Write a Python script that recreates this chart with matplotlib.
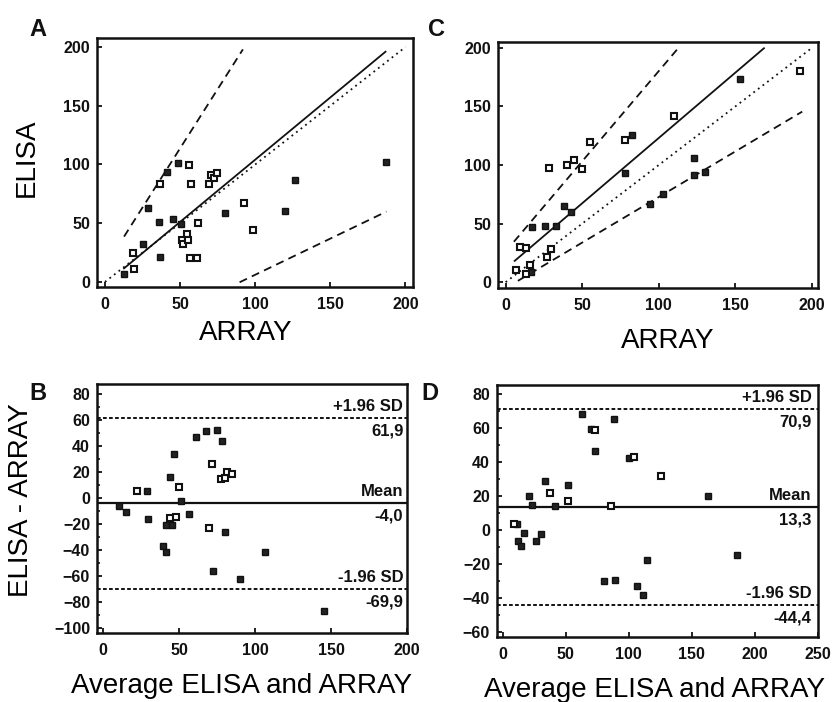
import matplotlib
matplotlib.use("Agg")
import matplotlib.pyplot as plt
import numpy as np

plt.rcParams['font.family'] = ['Liberation Sans', 'DejaVu Sans']

# ---------------- Data ----------------
# Panel A: ELISA vs ARRAY (set 1)
a_x = [12.7, 18.9, 19.6, 25.1, 28.4, 35.8, 36.9, 36.7, 41.6, 45.1, 48.4, 50.7, 51.6, 51.8,
       54.4, 55.3, 56.0, 57.3, 56.7, 61.3, 62.0, 69.1, 70.9, 72.4, 74.7, 80.0, 92.7, 98.2,
       119.8, 126.7, 187.3]
a_y = [7.1, 24.4, 10.8, 32.1, 63.3, 51.1, 21.6, 83.7, 93.3, 53.3, 101.3, 49.6, 36.0, 32.1,
       40.9, 36.0, 99.3, 83.7, 20.4, 20.4, 50.2, 83.7, 90.8, 88.5, 92.8, 58.4, 67.5, 44.3,
       60.1, 86.8, 102.4]
a_open = [0, 1, 1, 0, 0, 0, 0, 1, 0, 0, 0, 0, 1, 1,
          1, 1, 1, 1, 1, 1, 1, 1, 1, 1, 1, 0, 1, 1,
          0, 0, 0]
# lines: slope, intercept, x start, x end
a_reg = [1.06, -1.9, 12.7, 186.7]
a_up = [2.015, 13.0, 12.7, 91.8]
a_lo = [0.616, -55.5, 89.6, 187.3]
a_id = [1.0, 0.0, 0.0, 200.0]

# Panel C: ELISA vs ARRAY (set 2)
c_x = [6.5, 9.1, 13.5, 13.0, 15.6, 16.7, 17.4, 25.4, 27.1, 28.2, 29.8, 33.2, 37.8, 40.2,
       42.6, 44.5, 50.2, 55.2, 77.7, 78.2, 82.3, 94.5, 102.7, 109.9, 123.1, 123.3, 130.5,
       152.9, 192.4]
c_y = [10.3, 30.2, 28.8, 7.4, 14.5, 8.3, 46.7, 48.1, 21.7, 97.2, 28.5, 48.1, 65.0, 100.3,
       59.5, 104.0, 96.6, 119.9, 93.4, 121.4, 125.6, 66.7, 75.5, 142.2, 106.3, 91.5, 93.7,
       173.8, 180.1]
c_open = [1, 1, 1, 1, 1, 0, 0, 0, 1, 1, 1, 0, 0, 1,
          0, 1, 1, 1, 0, 1, 0, 0, 0, 1, 0, 0, 0,
          0, 1]
c_reg = [1.115, 11.6, 5.9, 168.7]
c_up = [1.54, 26.2, 5.4, 112.7]
c_lo = [0.778, -5.1, 8.0, 193.7]
c_id = [1.0, 0.0, 0.0, 200.0]

# Panel B: Bland-Altman (set 1)
b_x = [10.3, 15.3, 22.4, 28.9, 29.6, 39.4, 41.6, 41.6, 44.3, 45.4, 48.2, 44.3, 46.9, 49.8,
       51.3, 56.8, 60.9, 67.9, 69.5, 71.7, 72.1, 75.2, 78.3, 77.4, 80.5, 81.6, 84.8, 80.5,
       89.9, 106.8, 145.2]
b_y = [-6.1, -10.4, 5.5, 5.5, -16.1, -36.6, -41.2, -20.7, -15.5, -20.7, -14.3, 16.0, 33.7, 8.8,
       -2.0, -12.6, 47.3, 51.6, -22.7, 26.0, -55.9, 52.9, 44.0, 15.0, 15.2, 20.4, 18.3, -26.3,
       -62.0, -41.2, -87.4]
b_open = [0, 0, 1, 0, 0, 0, 0, 0, 1, 0, 1, 0, 0, 1,
          0, 0, 0, 0, 1, 1, 0, 0, 0, 1, 1, 1, 1, 0,
          0, 0, 0]
b_mean, b_upper, b_lower = -4.0, 61.9, -69.9
b_labels = ["+1.96 SD", "61,9", "Mean", "-4,0", "-1.96 SD", "-69,9"]

# Panel D: Bland-Altman (set 2)
d_x = [9.2, 11.1, 11.8, 14.5, 16.8, 21.0, 23.3, 26.2, 30.1, 33.7, 37.9, 41.8, 52.2, 51.7,
       63.2, 70.4, 73.6, 73.6, 80.3, 86.1, 87.9, 88.7, 100.1, 104.3, 106.9, 111.3, 114.5,
       125.7, 162.9, 185.5]
d_y = [3.3, 3.3, -6.5, -9.5, -1.8, 20.0, 14.5, -6.5, -2.2, 28.8, 21.8, 14.1, 26.3, 16.9,
       67.9, 59.1, 58.7, 46.3, -30.1, 14.1, 65.0, -29.3, 42.4, 43.0, -33.0, -38.5, -17.5,
       31.6, 20.0, -15.0]
d_open = [1, 0, 0, 0, 0, 0, 0, 0, 0, 0, 1, 0, 0, 1,
          0, 0, 1, 0, 0, 1, 0, 0, 0, 1, 0, 0, 0,
          1, 0, 0]
d_mean, d_upper, d_lower = 13.3, 70.9, -44.4
d_labels = ["+1.96 SD", "70,9", "Mean", "13,3", "-1.96 SD", "-44,4"]

INK = '#111111'
LABEL_FS = 20

fig = plt.figure(figsize=(8.34, 7.02), dpi=100)
axA = fig.add_axes([0.1163, 0.5912, 0.3789, 0.3547])
axC = fig.add_axes([0.5971, 0.5897, 0.3837, 0.3504])
axB = fig.add_axes([0.1163, 0.0983, 0.3717, 0.3547])
axD = fig.add_axes([0.5959, 0.0926, 0.3849, 0.3590])


def style(ax):
    for s in ax.spines.values():
        s.set_linewidth(1.8)
        s.set_color(INK)
    ax.tick_params(axis='x', direction='in', length=3.6, width=1.3, colors=INK,
                   labelsize=11.5, pad=7)
    ax.tick_params(axis='y', direction='in', length=3.6, width=1.3, colors=INK,
                   labelsize=11.5, pad=5)
    for lab in ax.get_xticklabels() + ax.get_yticklabels():
        lab.set_fontweight('bold')


def scatter(ax, xs, ys, opens):
    xs = np.array(xs); ys = np.array(ys); op = np.array(opens, bool)
    ax.plot(xs[~op], ys[~op], 's', ms=4.8, mfc='#222222', mec=INK, mew=1.0, zorder=4)
    ax.plot(xs[op], ys[op], 's', ms=4.8, mfc='white', mec=INK, mew=1.5, zorder=4)


def line(ax, spec, **kw):
    m, b, x0, x1 = spec
    xx = np.array([x0, x1])
    ax.plot(xx, m * xx + b, color=INK, **kw)


DASH = (0, (4.5, 3))
DOT = (0, (1, 2.2))

# Panel A
scatter(axA, a_x, a_y, a_open)
line(axA, a_reg, lw=1.3)
line(axA, a_up, lw=1.3, ls=DASH)
line(axA, a_lo, lw=1.3, ls=DASH)
line(axA, a_id, lw=1.3, ls=DOT)
axA.set_xlim(-5.3, 205)
axA.set_ylim(-4.3, 207.7)
axA.set_xticks([0, 50, 100, 150, 200])
axA.set_yticks([0, 50, 100, 150, 200])
axA.set_xlabel('ARRAY', fontsize=LABEL_FS, labelpad=6)
axA.set_ylabel('ELISA', fontsize=LABEL_FS, labelpad=17)
axA.xaxis.label.set_x(0.472)
axA.yaxis.label.set_y(0.52)
style(axA)

# Panel C
scatter(axC, c_x, c_y, c_open)
line(axC, c_reg, lw=1.3)
line(axC, c_up, lw=1.3, ls=DASH)
line(axC, c_lo, lw=1.3, ls=DASH)
line(axC, c_id, lw=1.3, ls=DOT)
axC.set_xlim(-5, 204)
axC.set_ylim(-5, 205)
axC.set_xticks([0, 50, 100, 150, 200])
axC.set_yticks([0, 50, 100, 150, 200])
axC.set_xlabel('ARRAY', fontsize=LABEL_FS, labelpad=11)
axC.xaxis.label.set_x(0.531)
style(axC)


def bland(ax, xs, ys, opens, mean, up, lo, labels, xlim):
    scatter(ax, xs, ys, opens)
    ax.axhline(mean, color=INK, lw=1.6)
    ax.axhline(up, color=INK, lw=1.4, ls=(0, (1.9, 1.2)))
    ax.axhline(lo, color=INK, lw=1.4, ls=(0, (1.9, 1.2)))
    xr = xlim[1] - 0.012 * (xlim[1] - xlim[0])
    kw = dict(ha='right', fontsize=12, fontweight='bold', color=INK)
    for val, above, below in [(up, labels[0], labels[1]), (mean, labels[2], labels[3]),
                              (lo, labels[4], labels[5])]:
        ax.annotate(above, (xr, val), xytext=(0, 3), textcoords='offset points', va='bottom', **kw)
        ax.annotate(below, (xr, val), xytext=(0, -4), textcoords='offset points', va='top', **kw)
    ax.set_xlim(*xlim)
    ax.set_xlabel('Average ELISA and ARRAY', fontsize=LABEL_FS, labelpad=11)


bland(axB, b_x, b_y, b_open, b_mean, b_upper, b_lower, b_labels, (-4, 200))
axB.set_ylim(-104, 88)
axB.set_xticks([0, 50, 100, 150, 200])
axB.set_yticks(np.arange(-100, 81, 20))
axB.set_yticks(np.arange(-100, 81, 10), minor=True)
axB.set_ylabel('ELISA - ARRAY', fontsize=LABEL_FS, labelpad=14)
axB.xaxis.label.set_x(0.465)
axB.yaxis.label.set_y(0.534)
style(axB)
axB.tick_params(which='minor', direction='in', length=2.2, width=1.1)

bland(axD, d_x, d_y, d_open, d_mean, d_upper, d_lower, d_labels, (-4.5, 248))
axD.set_ylim(-63.1, 85.2)
axD.set_xticks([0, 50, 100, 150, 200, 250])
axD.set_yticks(np.arange(-60, 81, 20))
axD.set_yticks(np.arange(-60, 81, 10), minor=True)
axD.xaxis.label.set_x(0.49)
style(axD)
axD.tick_params(which='minor', direction='in', length=2.2, width=1.1)

# Panel letters
for txt, x, y in [('A', 38, 30), ('C', 437, 30), ('B', 38, 393), ('D', 430, 393)]:
    fig.text(x / 834, 1 - y / 702, txt, fontsize=17, fontweight='bold',
             ha='center', va='center', color=INK)

fig.savefig('out.png', dpi=100, facecolor='white')
